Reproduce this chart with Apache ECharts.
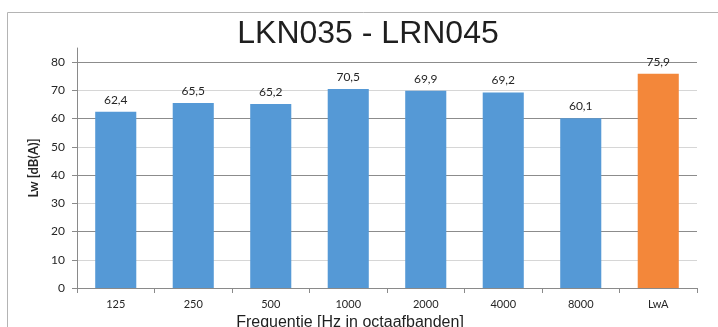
<!DOCTYPE html>
<html>
<head>
<meta charset="utf-8">
<script src="https://cdn.jsdelivr.net/npm/echarts@6/dist/echarts.min.js"></script>
<style>
  html, body { margin: 0; padding: 0; background: #fff; }
  #chart { width: 718px; height: 327px; }
</style>
</head>
<body>
<div id="chart"></div>
<script>
// Octave-band sound power levels, plus the total A-weighted level
const categories = ['125', '250', '500', '1000', '2000', '4000', '8000', 'LwA'];
const bandLevels = [62.4, 65.5, 65.2, 70.5, 69.9, 69.2, 60.1];
const totalLevel = 75.9;
const yTickLabels = [0, 10, 20, 30, 40, 50, 60, 70, 80];

const BLUE = '#5599D6';
const ORANGE = '#F3873A';

const barData = bandLevels.map(v => ({ value: v, itemStyle: { color: BLUE } }));
barData.push({ value: totalLevel, itemStyle: { color: ORANGE } });

const chart = echarts.init(document.getElementById('chart'), null, { renderer: 'canvas' });

chart.setOption({
  animation: false,
  backgroundColor: '#ffffff',
  title: {
    text: 'LKN035 - LRN045',
    left: 363,
    textAlign: 'center',
    top: 13,
    textStyle: {
      fontFamily: '"Liberation Sans", Arial, sans-serif',
      fontSize: 32,
      fontWeight: 'normal',
      color: '#1f1f1f'
    }
  },
  graphic: [{
    type: 'rect',
    shape: { x: 7.5, y: 12.5, width: 720, height: 330 },
    style: { fill: 'none', stroke: '#b4b4b4', lineWidth: 1 },
    silent: true,
    z: -1
  }],
  grid: { left: 77, right: 21, top: 48, bottom: 39, outerBoundsMode: 'none', containLabel: false },
  xAxis: {
    type: 'category',
    data: categories,
    name: 'Frequentie [Hz in octaafbanden]',
    nameLocation: 'middle',
    nameGap: 24,
    nameTextStyle: {
      fontFamily: '"Liberation Sans", Arial, sans-serif',
      fontSize: 16,
      color: '#1f1f1f',
      padding: [0, 74, 0, 0]
    },
    axisLine: { lineStyle: { color: '#8a8a8a', width: 1 } },
    axisTick: { show: true, alignWithLabel: false, length: 5, lineStyle: { color: '#8a8a8a' } },
    axisLabel: {
      margin: 11,
      fontFamily: 'Lato, "Open Sans", sans-serif',
      fontSize: 11,
      color: '#262626'
    },
    splitLine: { show: false }
  },
  yAxis: {
    type: 'value',
    min: 0,
    max: 85,
    interval: 5,
    name: 'Lw [dB(A)]',
    nameLocation: 'middle',
    nameGap: 31,
    nameTextStyle: {
      fontFamily: 'Lato, "Open Sans", sans-serif',
      fontSize: 13,
      fontWeight: 'bold',
      color: '#262626'
    },
    axisLine: { show: true, lineStyle: { color: '#8a8a8a', width: 1 } },
    axisTick: {
      show: true,
      length: 5,
      customValues: yTickLabels,
      lineStyle: { color: '#8a8a8a' }
    },
    axisLabel: {
      customValues: yTickLabels,
      margin: 12,
      fontFamily: 'Lato, "Open Sans", sans-serif',
      fontSize: 12,
      color: '#262626'
    },
    splitLine: {
      show: true,
      lineStyle: { color: ['#8c8c8c', '#d6d6d6'], width: 1 }
    }
  },
  series: [{
    type: 'bar',
    data: barData,
    barCategoryGap: '47%',
    label: {
      show: true,
      position: 'top',
      distance: 6,
      fontFamily: 'Lato, "Open Sans", sans-serif',
      fontSize: 12,
      color: '#262626',
      formatter: p => p.value.toFixed(1).replace('.', ',')
    }
  }]
});
</script>
</body>
</html>
